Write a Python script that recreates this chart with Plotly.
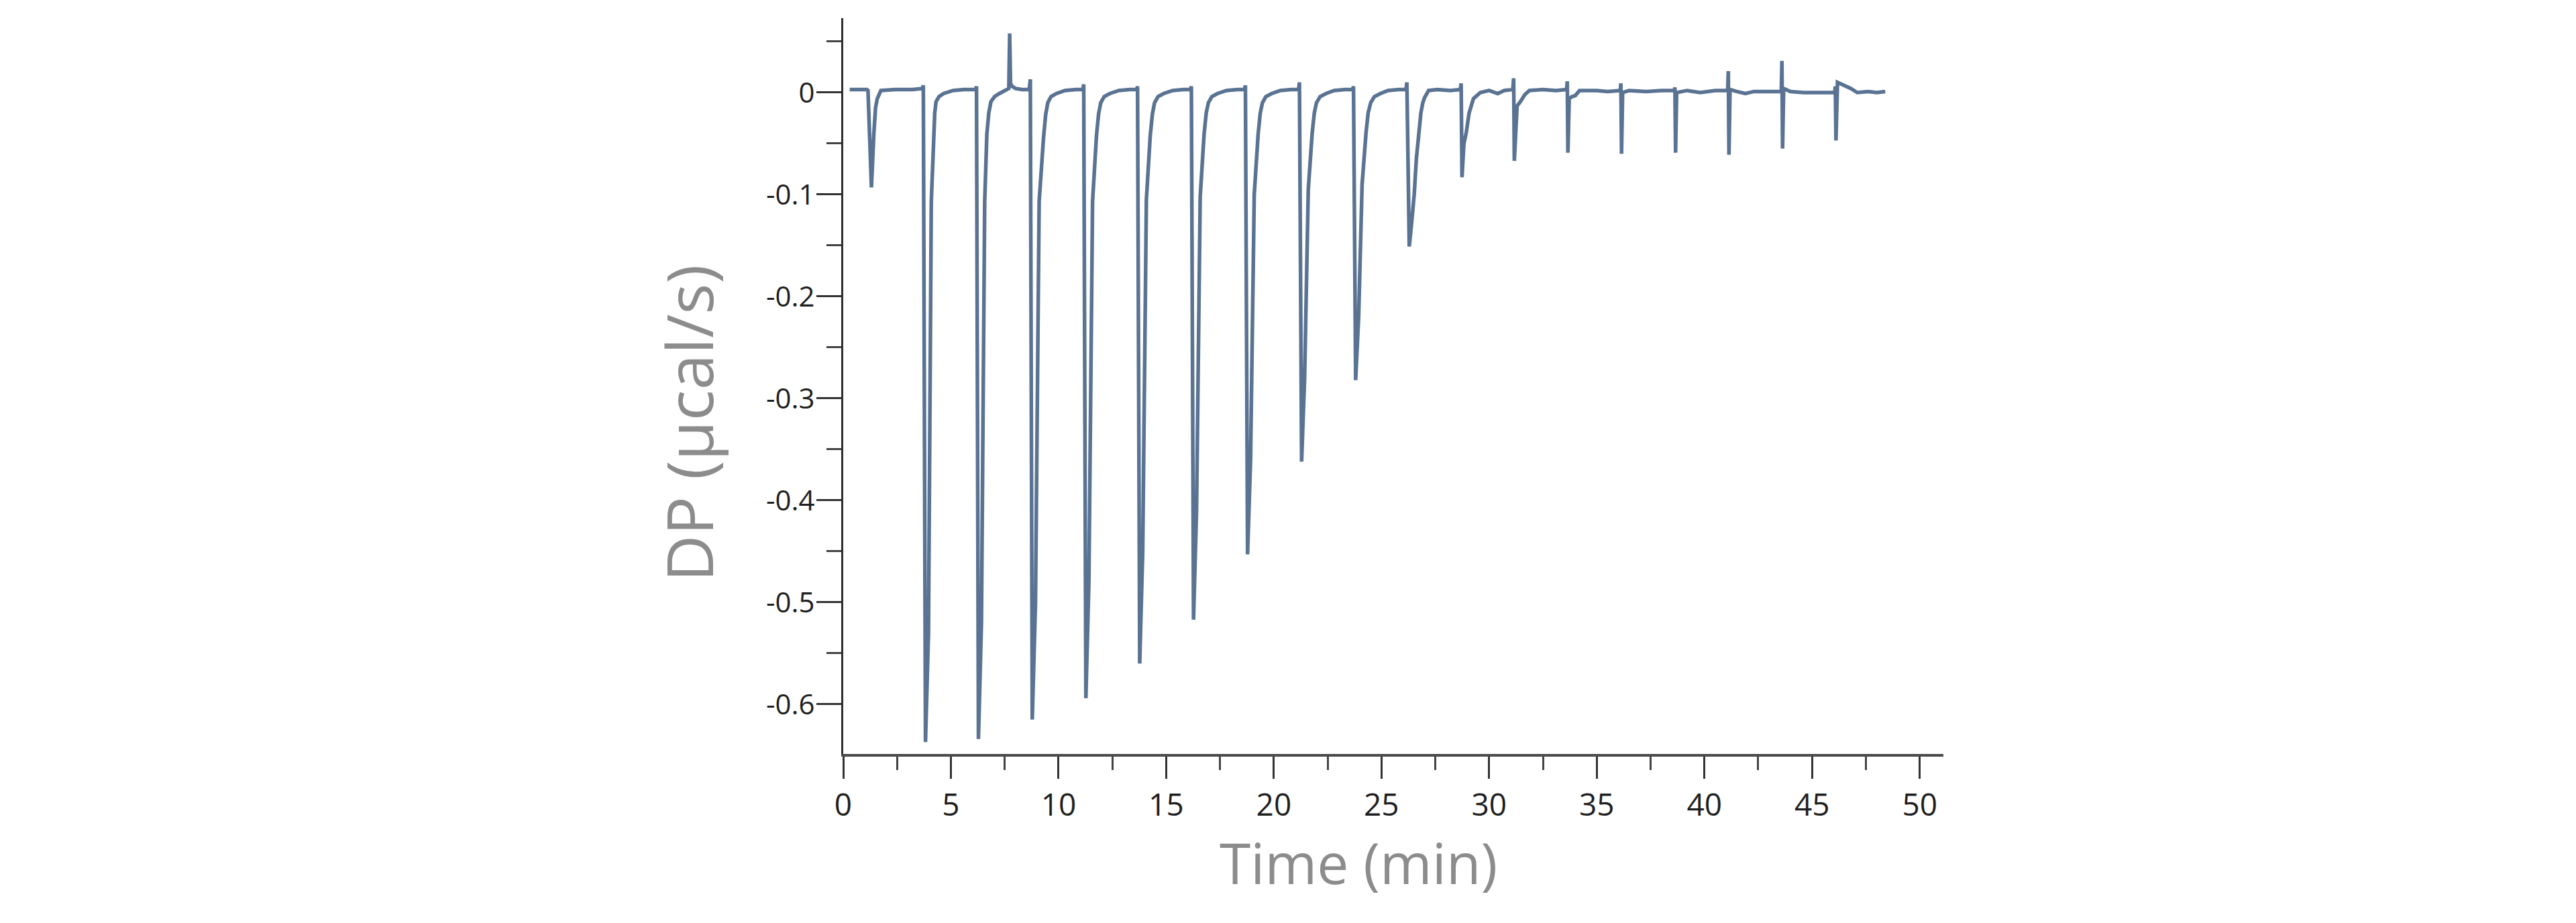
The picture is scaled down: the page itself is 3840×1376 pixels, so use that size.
import plotly.graph_objects as go

# Thermogram trace (time in min, DP in µcal/s)
time_min = [
    0.30, 0.70, 1.10, 1.15, 1.31, 1.42, 1.50, 1.58, 1.75, 2.40, 3.20,
    3.68, 3.72, 3.82, 3.96, 4.09, 4.19, 4.25, 4.31, 4.45, 4.66, 5.10, 5.60,
    6.15, 6.19, 6.28, 6.42, 6.57, 6.67, 6.76, 6.86, 7.03, 7.25, 7.55,
    7.69, 7.73, 7.77, 7.85, 8.00, 8.30,
    8.64, 8.69, 8.78, 8.93, 9.10, 9.30, 9.40, 9.50, 9.65, 9.90, 10.30, 10.80,
    11.13, 11.17, 11.27, 11.41, 11.58, 11.76, 11.86, 11.96, 12.12, 12.38, 12.80, 13.30,
    13.63, 13.67, 13.77, 13.91, 14.08, 14.26, 14.36, 14.46, 14.62, 14.88, 15.30, 15.80,
    16.13, 16.17, 16.27, 16.41, 16.58, 16.76, 16.86, 16.96, 17.12, 17.38, 17.80, 18.30,
    18.64, 18.68, 18.78, 18.92, 19.09, 19.27, 19.37, 19.47, 19.63, 19.90, 20.30, 20.80,
    21.15, 21.19, 21.29, 21.43, 21.60, 21.78, 21.88, 21.98, 22.15, 22.42, 22.80, 23.30,
    23.66, 23.70, 23.80, 23.94, 24.10, 24.28, 24.38, 24.50, 24.67, 24.95, 25.30, 25.80,
    26.14, 26.18, 26.29, 26.40, 26.52, 26.62, 26.73, 26.83, 26.92, 27.00, 27.19, 27.60, 28.20,
    28.66, 28.70, 28.74, 28.83, 28.94, 29.07, 29.27, 29.59, 30.00, 30.40, 30.70,
    31.10, 31.14, 31.17, 31.30, 31.45, 31.66, 31.87, 32.50, 33.10,
    33.60, 33.63, 33.66, 33.72, 33.85, 34.00, 34.20, 35.00, 35.50,
    36.09, 36.12, 36.15, 36.20, 36.50, 37.30, 38.00,
    38.60, 38.63, 38.66, 38.71, 39.20, 39.80, 40.50,
    41.08, 41.11, 41.14, 41.19, 41.50, 41.90, 42.30, 43.00,
    43.57, 43.60, 43.63, 43.68, 44.00, 44.60, 45.30,
    46.05, 46.08, 46.11, 46.18, 46.30, 46.80, 47.10, 47.60, 48.00, 48.40,
]
dp_ucal_s = [
    0.003, 0.003, 0.003, 0.002, -0.093, -0.041, -0.015, -0.006, 0.002, 0.003, 0.003,
    0.004, 0.007, -0.637, -0.530, -0.107, -0.041, -0.020, -0.009, -0.004, -0.001, 0.002, 0.003,
    0.003, 0.006, -0.634, -0.520, -0.107, -0.041, -0.020, -0.009, -0.004, -0.001, 0.002,
    0.004, 0.058, 0.009, 0.006, 0.004, 0.003,
    0.003, 0.013, -0.615, -0.500, -0.107, -0.045, -0.022, -0.010, -0.004, -0.001, 0.002, 0.003,
    0.003, 0.008, -0.594, -0.480, -0.107, -0.043, -0.021, -0.010, -0.004, -0.001, 0.002, 0.003,
    0.003, 0.006, -0.560, -0.450, -0.105, -0.042, -0.021, -0.010, -0.004, -0.001, 0.002, 0.003,
    0.003, 0.006, -0.517, -0.410, -0.102, -0.041, -0.020, -0.010, -0.004, -0.001, 0.002, 0.003,
    0.003, 0.007, -0.453, -0.360, -0.100, -0.041, -0.020, -0.010, -0.004, -0.001, 0.002, 0.003,
    0.003, 0.010, -0.362, -0.280, -0.095, -0.040, -0.020, -0.010, -0.004, -0.001, 0.002, 0.003,
    0.003, 0.006, -0.282, -0.220, -0.090, -0.040, -0.020, -0.010, -0.004, -0.001, 0.002, 0.003,
    0.003, 0.010, -0.151, -0.128, -0.100, -0.065, -0.041, -0.020, -0.010, -0.005, 0.002, 0.003, 0.002,
    0.003, 0.009, -0.083, -0.050, -0.039, -0.020, -0.006, 0.000, 0.002, -0.001, 0.002,
    0.003, 0.014, -0.067, -0.013, -0.009, -0.002, 0.002, 0.003, 0.002,
    0.003, 0.011, -0.059, -0.006, -0.004, -0.003, 0.002, 0.002, 0.001,
    0.002, 0.009, -0.060, 0.000, 0.002, 0.001, 0.002,
    0.002, 0.005, -0.059, 0.000, 0.002, 0.000, 0.002,
    0.002, 0.021, -0.061, 0.003, 0.001, -0.001, 0.001, 0.001,
    0.001, 0.031, -0.055, 0.004, 0.001, 0.000, 0.000,
    0.000, 0.006, -0.047, 0.010, 0.009, 0.004, 0.000, 0.001, 0.000, 0.001,
]

x_tick_vals = [0, 5, 10, 15, 20, 25, 30, 35, 40, 45, 50]
x_tick_text = ["0", "5", "10", "15", "20", "25", "30", "35", "40", "45", "50"]
y_tick_vals = [0, -0.1, -0.2, -0.3, -0.4, -0.5, -0.6]
y_tick_text = ["0", "-0.1", "-0.2", "-0.3", "-0.4", "-0.5", "-0.6"]
x_title = "Time (min)"
y_title = "DP (µcal/s)"

FONT = "Open Sans, Noto Sans, DejaVu Sans, sans-serif"

fig = go.Figure()
fig.add_trace(go.Scatter(
    x=time_min, y=dp_ucal_s, mode="lines",
    line=dict(color="#5a7393", width=5.5),
    hoverinfo="skip", showlegend=False,
))

fig.update_layout(
    width=3840, height=1376,
    paper_bgcolor="white", plot_bgcolor="white",
    margin=dict(l=1257, r=943, t=27, b=252, autoexpand=False),
    font=dict(family=FONT, color="#1f1f1f", size=46),
    showlegend=False,
)

fig.update_xaxes(
    range=[0, 51.1], showgrid=False, zeroline=False,
    showline=True, linecolor="#4a4a4a", linewidth=4,
    ticks="outside", ticklen=33, tickwidth=3, tickcolor="#333333",
    tickvals=x_tick_vals, ticktext=x_tick_text,
    tickfont=dict(family=FONT, size=46, color="#1f1f1f"),
    minor=dict(ticks="outside", ticklen=20, tickwidth=3, tickcolor="#444444", dtick=2.5, tick0=0, showgrid=False),
)
fig.update_yaxes(
    range=[-0.6487, 0.073], showgrid=False, zeroline=False,
    showline=True, linecolor="#2e2e2e", linewidth=3,
    ticks="outside", ticklen=37, tickwidth=3, tickcolor="#333333",
    tickvals=y_tick_vals, ticktext=y_tick_text,
    tickfont=dict(family=FONT, size=42, color="#1f1f1f"),
    ticklabelstandoff=-6,
    minor=dict(ticks="outside", ticklen=22, tickwidth=3, tickcolor="#444444", dtick=0.05, tick0=0, showgrid=False),
)

fig.add_annotation(
    text=x_title, xref="paper", yref="paper", x=0.468, y=-0.1468,
    xanchor="center", yanchor="middle", showarrow=False,
    font=dict(family=FONT, size=84, color="#8c8c8c"),
)
fig.add_annotation(
    text=y_title, xref="paper", yref="paper", x=-0.1415, y=0.450,
    xanchor="center", yanchor="middle", showarrow=False, textangle=-90,
    font=dict(family=FONT, size=96, color="#8c8c8c"),
)

fig.write_html("out.html")
